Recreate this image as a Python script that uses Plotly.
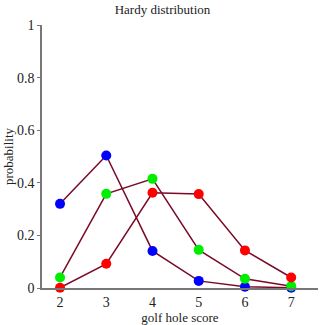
import plotly.graph_objects as go

scores = [2, 3, 4, 5, 6, 7]
blue_vals = [0.32, 0.504, 0.141, 0.027, 0.005, 0.001]
green_vals = [0.04, 0.358, 0.415, 0.145, 0.035, 0.007]
red_vals = [0.001, 0.092, 0.362, 0.357, 0.143, 0.04]
series = [(blue_vals, "#0000ff"), (green_vals, "#00ee00"), (red_vals, "#ff0000")]
y_ticks = [0, 0.2, 0.4, 0.6, 0.8, 1]
y_labels = ["0", "0.2", "0.4", "0.6", "0.8", "1"]

fig = go.Figure()
for vals, col in series:
    fig.add_trace(go.Scatter(x=scores, y=vals, mode="lines",
                             line=dict(color="#7a0a25", width=1.5),
                             cliponaxis=False, hoverinfo="skip"))
for vals, col in series:
    fig.add_trace(go.Scatter(x=scores, y=vals, mode="markers",
                             marker=dict(color=col, size=10, line=dict(width=0)),
                             cliponaxis=False))

fam = "Liberation Serif, Times New Roman, serif"
font = dict(family=fam, size=13, color="#222")
tickfont = dict(family=fam, size=14, color="#222")
fig.update_layout(
    width=325, height=325,
    margin=dict(l=42, r=7, t=25, b=37),
    paper_bgcolor="white", plot_bgcolor="white",
    showlegend=False,
    font=font,
    title=dict(text="Hardy distribution", x=0.5, xanchor="center", y=0.985, yanchor="top",
               font=dict(family=fam, size=13, color="#222")),
)
fig.update_xaxes(range=[1.61, 7.58], tickvals=scores, showgrid=False, zeroline=False,
                 showline=True, linecolor="#777", linewidth=1.5, ticks="", tickfont=tickfont,
                 title=dict(text="golf hole score", standoff=0, font=font))
fig.update_yaxes(range=[0, 1], tickvals=y_ticks, ticktext=y_labels, showgrid=False,
                 zeroline=False, showline=True, linecolor="#777", linewidth=1.5,
                 ticks="outside", ticklen=3, tickcolor="#777", tickfont=tickfont,
                 title=dict(text="probability", standoff=0, font=font))
fig.write_html("out.html")
